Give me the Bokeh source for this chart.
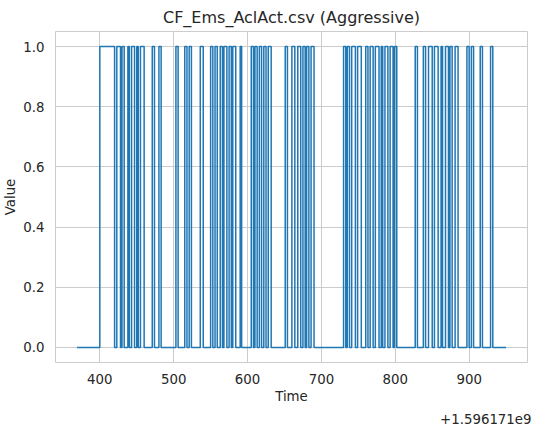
from bokeh.plotting import figure
from bokeh.models import ColumnDataSource, Title, FixedTicker, PrintfTickFormatter
from bokeh.embed import file_html
from bokeh.resources import INLINE

# toggle times (seconds, offset from 1.596171e9); signal starts at 0 and flips at each
toggles = [400, 420, 423, 428, 430, 433, 438, 440, 443, 447, 450, 452, 455, 460,
           471, 474, 480, 483, 503, 506, 515, 518, 521, 524, 536, 540, 550, 553,
           556, 559, 563, 566, 568, 572, 575, 578, 580, 584, 590, 592, 605, 608,
           610, 613, 616, 619, 622, 625, 628, 632, 651, 654, 660, 664, 668, 672,
           675, 678, 680, 683, 686, 690, 730, 733, 735, 738, 741, 746, 749, 754,
           760, 763, 766, 770, 773, 778, 781, 783, 786, 790, 793, 797, 799, 802,
           827, 830, 838, 841, 845, 850, 853, 858, 862, 864, 868, 872, 874, 877,
           881, 885, 897, 900, 903, 906, 915, 918, 929, 932]
t_start = 369
t_end = 950

times = [t_start] + toggles + [t_end]
values = [0]
for i in range(len(toggles)):
    values.append(1 - values[-1])
values.append(values[-1])

source = ColumnDataSource(data=dict(t=times, v=values))

p = figure(width=541, height=428, output_backend="svg", toolbar_location=None,
           x_range=(340, 979), y_range=(-0.05, 1.05),
           title="CF_Ems_AclAct.csv (Aggressive)",
           x_axis_label="Time", y_axis_label="Value",
           min_border_left=55, min_border_right=14, min_border_top=30, min_border_bottom=10)
p.step(x="t", y="v", source=source, mode="after", line_color="#1f77b4", line_width=1.5)

p.title.align = "center"
p.title.text_font = "DejaVu Sans"
p.title.text_font_size = "12pt"
p.title.text_font_style = "normal"
p.title.text_color = "#262626"

p.xaxis.ticker = FixedTicker(ticks=[400, 500, 600, 700, 800, 900])
p.yaxis.ticker = FixedTicker(ticks=[0, 0.2, 0.4, 0.6, 0.8, 1.0])
p.yaxis.formatter = PrintfTickFormatter(format="%.1f")
for ax in (p.xaxis, p.yaxis):
    ax.axis_line_color = None
    ax.major_tick_line_color = None
    ax.minor_tick_line_color = None
    ax.major_label_text_font = "DejaVu Sans"
    ax.major_label_text_font_size = "10pt"
    ax.major_label_text_color = "#262626"
    ax.axis_label_text_font = "DejaVu Sans"
    ax.axis_label_text_font_size = "10pt"
    ax.axis_label_text_font_style = "normal"
    ax.axis_label_text_color = "#262626"
    ax.axis_label_standoff = 2
p.grid.grid_line_color = "#cccccc"
p.outline_line_color = "#cccccc"
p.outline_line_width = 1
p.background_fill_color = "white"

offset = Title(text="+1.596171e9", align="right", text_font="DejaVu Sans",
               text_font_size="10pt", text_font_style="normal", text_color="#262626",
               offset=-4)
p.add_layout(offset, "below")

open("out.html", "w").write(file_html(p, INLINE))
